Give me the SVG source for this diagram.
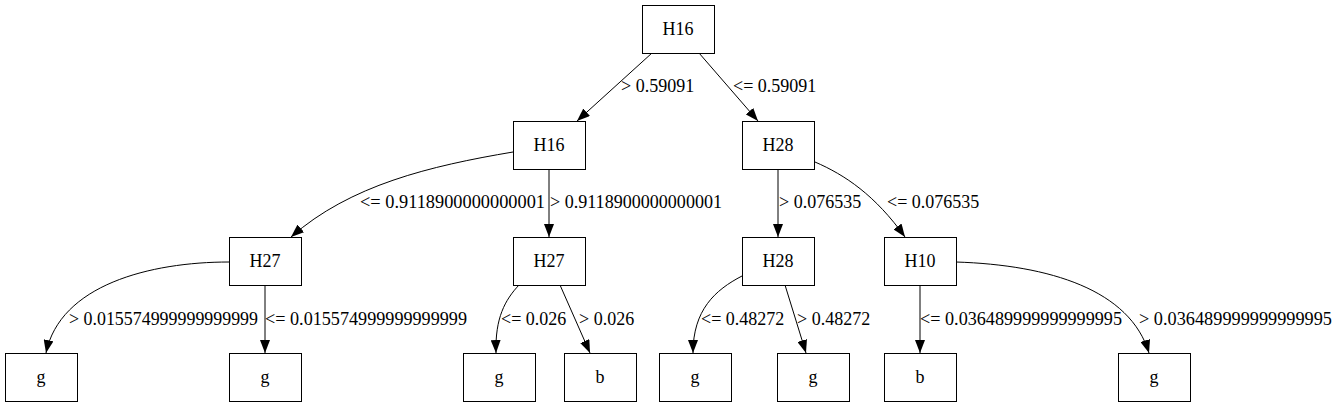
<svg xmlns="http://www.w3.org/2000/svg" width="1339" height="407" viewBox="0 0 1339 407">
<style>
.n rect{fill:#fff;stroke:#000;stroke-width:1}
text{font-family:"Liberation Serif","Times New Roman",serif;font-size:18px;fill:#000}
.n text{text-anchor:middle}
.e path{fill:none;stroke:#000;stroke-width:1;marker-end:url(#ah)}
</style>
<defs>
<marker id="ah" markerUnits="userSpaceOnUse" markerWidth="13" markerHeight="10" refX="13" refY="5" orient="auto">
<path d="M0,0 L13,5 L0,10 z" fill="#000"/>
</marker>
</defs>
<rect width="1339" height="407" fill="#fff"/>
<g id="edges" class="e">
<path d="M652,53 L577,121"/>
<path d="M699,53 L758,121"/>
<path d="M513,152 C430,166 350,185 291,237"/>
<path d="M549,169 L549,237"/>
<path d="M778,169 L778,237"/>
<path d="M815,162 C845,175 875,195 905,237"/>
<path d="M229,262 C150,262 60,285 46,353"/>
<path d="M265,285 L265,353"/>
<path d="M519,285 C505,300 495,318 496,353"/>
<path d="M560,285 L590,353"/>
<path d="M742,276 C715,290 693,310 693,353"/>
<path d="M785,285 L806,353"/>
<path d="M920,285 L920,353"/>
<path d="M956,262 C1050,265 1130,290 1149,353"/>
</g>
<g id="edge-labels">
<text x="621" y="92">&gt; 0.59091</text>
<text x="733" y="92">&lt;= 0.59091</text>
<text x="360" y="208" textLength="185" lengthAdjust="spacingAndGlyphs">&lt;= 0.9118900000000001</text>
<text x="550" y="208" textLength="172" lengthAdjust="spacingAndGlyphs">&gt; 0.9118900000000001</text>
<text x="779" y="208">&gt; 0.076535</text>
<text x="887" y="208">&lt;= 0.076535</text>
<text x="69" y="325" textLength="189" lengthAdjust="spacingAndGlyphs">&gt; 0.015574999999999999</text>
<text x="265" y="325" textLength="202" lengthAdjust="spacingAndGlyphs">&lt;= 0.015574999999999999</text>
<text x="501" y="325">&lt;= 0.026</text>
<text x="579" y="325">&gt; 0.026</text>
<text x="701" y="325">&lt;= 0.48272</text>
<text x="797" y="325">&gt; 0.48272</text>
<text x="920" y="325" textLength="202" lengthAdjust="spacingAndGlyphs">&lt;= 0.036489999999999995</text>
<text x="1139" y="325" textLength="193" lengthAdjust="spacingAndGlyphs">&gt; 0.036489999999999995</text>
</g>
<g id="n0" class="n"><rect x="642.5" y="5.5" width="72" height="48"/><text x="678" y="35">H16</text></g>
<g id="n1" class="n"><rect x="513.5" y="121.5" width="72" height="48"/><text x="549" y="151">H16</text></g>
<g id="n2" class="n"><rect x="742.5" y="121.5" width="72" height="48"/><text x="778" y="151">H28</text></g>
<g id="n3" class="n"><rect x="229.5" y="237.5" width="72" height="48"/><text x="265" y="267">H27</text></g>
<g id="n4" class="n"><rect x="513.5" y="237.5" width="72" height="48"/><text x="549" y="267">H27</text></g>
<g id="n5" class="n"><rect x="742.5" y="237.5" width="72" height="48"/><text x="778" y="267">H28</text></g>
<g id="n6" class="n"><rect x="884.5" y="237.5" width="72" height="48"/><text x="920" y="267">H10</text></g>
<g id="n7" class="n"><rect x="5.5" y="353.5" width="72" height="48"/><text x="41" y="383">g</text></g>
<g id="n8" class="n"><rect x="229.5" y="353.5" width="72" height="48"/><text x="265" y="383">g</text></g>
<g id="n9" class="n"><rect x="463.5" y="353.5" width="72" height="48"/><text x="499" y="383">g</text></g>
<g id="n10" class="n"><rect x="564.5" y="353.5" width="72" height="48"/><text x="600" y="383">b</text></g>
<g id="n11" class="n"><rect x="659.5" y="353.5" width="72" height="48"/><text x="695" y="383">g</text></g>
<g id="n12" class="n"><rect x="777.5" y="353.5" width="72" height="48"/><text x="813" y="383">g</text></g>
<g id="n13" class="n"><rect x="884.5" y="353.5" width="72" height="48"/><text x="920" y="383">b</text></g>
<g id="n14" class="n"><rect x="1118.5" y="353.5" width="72" height="48"/><text x="1154" y="383">g</text></g>
</svg>
